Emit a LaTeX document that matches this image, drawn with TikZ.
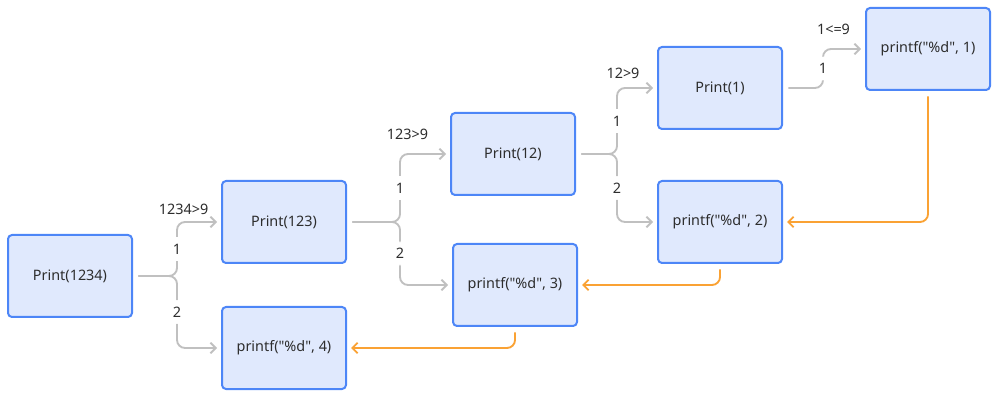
\documentclass[tikz,border=0pt]{standalone}
\usepackage{fontspec}
\setmainfont{Noto Sans}[Ligatures=TeXOff]
\usepackage{xcolor}
\usetikzlibrary{positioning,arrows.meta,calc}
\definecolor{boxfill}{RGB}{224,233,253}
\definecolor{boxline}{RGB}{77,134,247}
\definecolor{branchgray}{RGB}{192,192,192}
\definecolor{retorange}{RGB}{250,162,52}
\definecolor{txt}{RGB}{45,45,45}
\tikzset{
  call/.style={draw=boxline,line width=1.5pt,fill=boxfill,rounded corners=3pt,
            minimum width=93pt,minimum height=61.5pt,align=center,text=txt},
  branch/.style={-{Straight Barb[length=4pt,width=8pt]},line width=1.4pt,branchgray,
            rounded corners=6pt,shorten <=4pt,shorten >=3pt},
  ret/.style={-{Straight Barb[length=4pt,width=8pt]},line width=1.4pt,retorange,
            rounded corners=6pt,shorten <=4pt,shorten >=3pt},
  num/.style={fill=white,text=txt,inner xsep=1pt,inner ysep=5pt},
  cond/.style={text=txt,inner sep=1pt},
}
\begin{document}
\begin{tikzpicture}[x=0.75pt,y=-0.75pt,every node/.style={font=\fontsize{10.8}{12}\selectfont}]
  \useasboundingbox (0,0) rectangle (999,402);
  \node[call] (p1234) at (70,276) {Print(1234)};
  \node[call] (p123) at (284,222) {Print(123)};
  \node[call] (pf4) at (284,348) {printf("\%d", 4)};
  \node[call] (p12) at (513,154) {Print(12)};
  \node[call] (pf3) at (515,285) {printf("\%d", 3)};
  \node[call] (p1) at (720,88) {Print(1)};
  \node[call] (pf2) at (720,222) {printf("\%d", 2)};
  \node[call] (pf1) at (928,49) {printf("\%d", 1)};
  % branch points
  \coordinate (j1) at ($(p1234.east)+(44,0)$);
  \coordinate (j2) at ($(p123.east)+(53,0)$);
  \coordinate (j3) at ($(p12.east)+(41,0)$);
  \coordinate (j4) at ($(p1.east)+(40,0)$);
  % recursive calls
  \draw[branch] (p1234.east) -| node[num,pos=0.75]{1} (j1 |- p123.west)
    -- node[cond,pos=0.15,above=4pt]{1234>9} (p123.west);
  \draw[branch] (p1234.east) -| node[num,pos=0.75]{2} (j1 |- pf4.west) -- (pf4.west);
  \draw[branch] (p123.east) -| node[num,pos=0.75]{1} (j2 |- p12.west)
    -- node[cond,pos=0.15,above=9pt]{123>9} (p12.west);
  \draw[branch] (p123.east) -| node[num,pos=0.75]{2} (j2 |- pf3.west) -- (pf3.west);
  \draw[branch] (p12.east) -| node[num,pos=0.75]{1} (j3 |- p1.west)
    -- node[cond,pos=0.15,above=5pt]{12>9} (p1.west);
  \draw[branch] (p12.east) -| node[num,pos=0.75]{2} (j3 |- pf2.west) -- (pf2.west);
  \draw[branch] (p1.east) -| node[num,pos=0.75]{1} (j4 |- pf1.west)
    -- node[cond,pos=0.25,above=9pt]{1<=9} (pf1.west);
  % returns
  \draw[ret] (pf1.south) |- (pf2.east);
  \draw[ret] (pf2.south) |- (pf3.east);
  \draw[ret] (pf3.south) |- (pf4.east);
\end{tikzpicture}
\end{document}
